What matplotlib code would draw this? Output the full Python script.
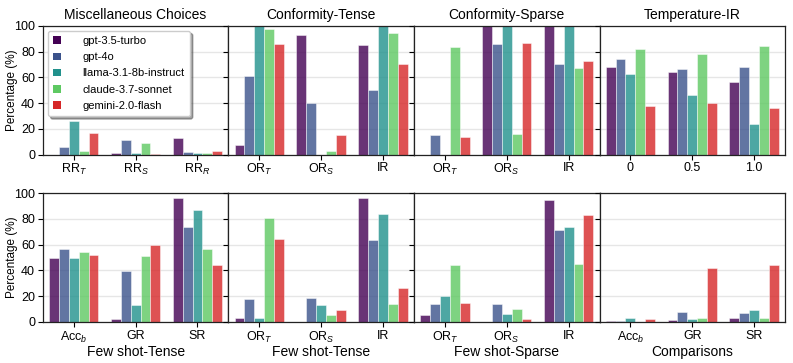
import matplotlib
matplotlib.use("Agg")
import matplotlib.pyplot as plt
import numpy as np
from matplotlib.patches import Patch

MODELS = ["gpt-3.5-turbo", "gpt-4o", "llama-3.1-8b-instruct",
          "claude-3.7-sonnet", "gemini-2.0-flash"]
COLORS = ["#440154", "#3b528b", "#21918c", "#5ec962", "#d62728"]

# top row
MISC_CATS = ["RR$_T$", "RR$_S$", "RR$_R$"]
MISC_VALS = [[0, 1, 12.7], [5.5, 11.4, 1.8], [26, 1.5, 1.3], [3, 8.8, 1.5], [17, 0.5, 2.6]]

CT_CATS = ["OR$_T$", "OR$_S$", "IR"]
CT_VALS = [[7.5, 92.7, 85], [60.8, 40, 50.4], [100, 0, 100], [97.4, 2.6, 94.5], [85.7, 14.8, 70.6]]

CS_CATS = ["OR$_T$", "OR$_S$", "IR"]
CS_VALS = [[0, 100, 100], [15, 85.7, 70], [0, 100, 100], [83.9, 16, 67.3], [13.5, 86.8, 73]]

TEMP_CATS = ["0", "0.5", "1.0"]
TEMP_VALS = [[68.3, 64.4, 56.1], [74.3, 66.2, 68.3], [62.3, 46, 23.9], [82.3, 78.4, 84.4], [37.9, 40, 36.1]]

# bottom row
FST_CATS = ["Acc$_b$", "GR", "SR"]
FST_VALS = [[49.6, 2.3, 96.6], [56.6, 39.8, 73.4], [49.6, 12.9, 86.6], [54, 50.9, 56.8], [52, 60, 43.9]]

FST2_CATS = ["OR$_T$", "OR$_S$", "IR"]
FST2_VALS = [[3.4, 0, 96.4], [18.1, 18.3, 63.3], [2.8, 13.2, 84], [80.9, 5.7, 14.2], [64.6, 9.3, 26.1]]

FSS_CATS = ["OR$_T$", "OR$_S$", "IR"]
FSS_VALS = [[5.4, 0, 94.6], [14.2, 14, 71.8], [20.2, 6.2, 73.6], [44.4, 10.3, 45], [15, 2.6, 82.7]]

CMP_CATS = ["Acc$_b$", "GR", "SR"]
CMP_VALS = [[0.8, 1.8, 2.8], [0.4, 8, 7.2], [3.4, 2, 9], [0, 3.4, 2.8], [2.6, 41.9, 44.4]]

PANELS = [
    (MISC_CATS, MISC_VALS, "Miscellaneous Choices", None),
    (CT_CATS, CT_VALS, "Conformity-Tense", None),
    (CS_CATS, CS_VALS, "Conformity-Sparse", None),
    (TEMP_CATS, TEMP_VALS, "Temperature-IR", None),
    (FST_CATS, FST_VALS, None, "Few shot-Tense"),
    (FST2_CATS, FST2_VALS, None, "Few shot-Tense"),
    (FSS_CATS, FSS_VALS, None, "Few shot-Sparse"),
    (CMP_CATS, CMP_VALS, None, "Comparisons"),
]

plt.rcParams.update({
    "font.family": ["Liberation Sans", "DejaVu Sans"],
    "mathtext.fontset": "custom",
    "mathtext.rm": "Liberation Sans",
    "mathtext.it": "Liberation Sans:italic",
    "font.size": 9,
    "axes.axisbelow": True,
})

fig, axes = plt.subplots(2, 4, figsize=(7.93, 3.63), dpi=100, sharey=True)
fig.subplots_adjust(left=0.054, right=0.990, top=0.929, bottom=0.113,
                    wspace=0.0, hspace=0.30)

width = 0.16
for ax, (cats, vals, title, xlabel) in zip(axes.flat, PANELS):
    x = np.arange(len(cats))
    for i, (series, c) in enumerate(zip(vals, COLORS)):
        ax.bar(x + (i - 2) * width, series, width, color=c, alpha=0.8,
               edgecolor="white", linewidth=0.4)
    ax.set_xticks(x)
    ax.set_xticklabels(cats, fontsize=9)
    ax.set_xlim(-0.5, 2.5)
    ax.set_ylim(0, 100)
    ax.set_yticks([0, 20, 40, 60, 80, 100])
    ax.yaxis.grid(True, color="#e6e6e6", linewidth=1)
    ax.tick_params(axis="both", direction="out", length=3.5, width=0.8,
                   labelsize=9, pad=2)
    for sp in ax.spines.values():
        sp.set_linewidth(0.9)
        sp.set_color("#222222")
    if title:
        ax.set_title(title, fontsize=10, pad=5)
    if xlabel:
        ax.set_xlabel(xlabel, fontsize=10, labelpad=0)

for ax in axes[:, 0]:
    ax.set_ylabel("Percentage (%)", fontsize=8.5)
    ax.yaxis.set_label_coords(-0.135, 0.5)

handles = [Patch(facecolor=c, edgecolor="none") for c in COLORS]
axes[0, 0].legend(handles, MODELS, loc="upper left", fontsize=8,
                  frameon=True, shadow=True, fancybox=True,
                  handlelength=0.7, handleheight=0.7, handletextpad=1.9,
                  borderpad=0.5, labelspacing=0.55, borderaxespad=0,
                  bbox_to_anchor=(0.027, 0.962), framealpha=1.0,
                  edgecolor="#cccccc")

fig.savefig("out.png", dpi=100)
